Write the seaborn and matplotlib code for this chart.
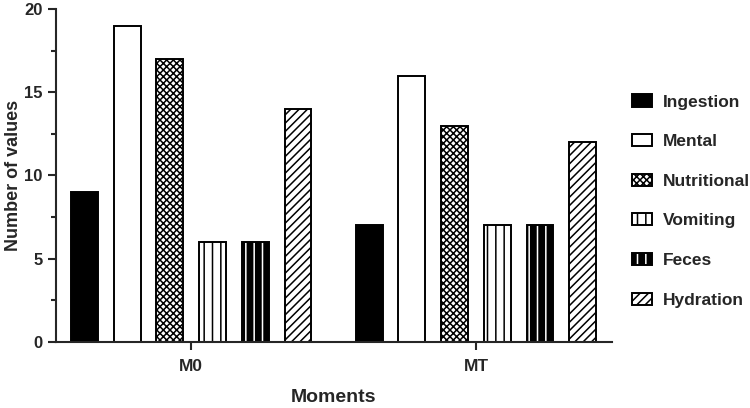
import pandas as pd
import matplotlib
matplotlib.use("Agg")
import matplotlib.pyplot as plt
import seaborn as sns

# ==========================================
# Data
# ==========================================

moments = ["M0", "MT"]
groups = ["Ingestion", "Mental", "Nutritional", "Vomiting", "Feces", "Hydration"]
m0_values = [9, 19, 17, 6, 6, 14]
mt_values = [7, 16, 13, 7, 7, 12]

df = pd.DataFrame({
    "Moments": [moments[0]] * len(groups) + [moments[1]] * len(groups),
    "Group": groups * 2,
    "Number of values": m0_values + mt_values,
})

# ==========================================
# Styles
# ==========================================

sns.set_style("ticks")
plt.rcParams["font.family"] = ["Liberation Sans", "DejaVu Sans"]
plt.rcParams["font.weight"] = "bold"
plt.rcParams["hatch.linewidth"] = 1.1

styles = {
    "Ingestion": dict(face="black", hatch=None, hatch_color=None),
    "Mental": dict(face="white", hatch=None, hatch_color=None),
    "Nutritional": dict(face="white", hatch="xxxxx", hatch_color=None),
    "Vomiting": dict(face="white", hatch="||", hatch_color=None),
    "Feces": dict(face="black", hatch="||", hatch_color=(1, 1, 1, 1)),
    "Hydration": dict(face="white", hatch="////", hatch_color=None),
}

# ==========================================
# Plot
# ==========================================

fig = plt.figure(figsize=(7.5, 4.08), dpi=100)
ax = fig.add_axes([0.0747, 0.162, 0.741, 0.816])

sns.barplot(
    data=df,
    x="Moments",
    y="Number of values",
    hue="Group",
    hue_order=groups,
    order=moments,
    width=0.9,
    gap=0.37,
    legend=False,
    ax=ax,
)

for container, name in zip(ax.containers, groups):
    st = styles[name]
    for bar in container.patches:
        bar.set_facecolor(st["face"])
        bar.set_edgecolor("black")
        bar.set_linewidth(1.4)
        if st["hatch"]:
            bar.set_hatch(st["hatch"])
        if st["hatch_color"] is not None:
            bar._hatch_color = st["hatch_color"]

handles = [c.patches[0] for c in ax.containers]
ax.legend(
    handles,
    groups,
    loc="center left",
    bbox_to_anchor=(1.008, 0.423),
    frameon=False,
    prop={"size": 12.5, "weight": "bold"},
    handlelength=1.15,
    handleheight=0.7,
    handletextpad=0.65,
    labelspacing=1.41,
)

ax.set_xlim(-0.475, 1.477)
ax.set_ylim(0, 20)
ax.set_yticks([0, 5, 10, 15, 20])
ax.set_yticks([2.5, 7.5, 12.5, 17.5], minor=True)

ax.set_xlabel("Moments", fontsize=14, fontweight="bold", labelpad=11)
ax.set_ylabel("Number of values", fontsize=13, fontweight="bold", labelpad=2)

ax.tick_params(axis="both", labelsize=12, width=1.5, length=6)
ax.tick_params(axis="x", labelsize=12.5, pad=6)
ax.tick_params(axis="y", which="minor", width=1.5, length=3.5)

for side in ["left", "bottom"]:
    ax.spines[side].set_linewidth(1.5)
sns.despine(ax=ax)

plt.savefig("out.png", dpi=100)
plt.close()
